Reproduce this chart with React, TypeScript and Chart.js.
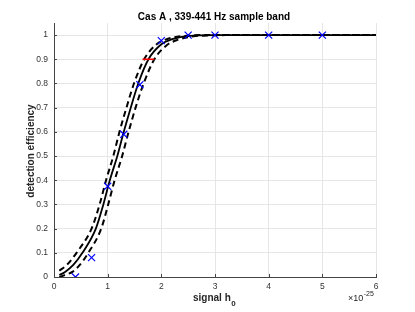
import React, { useEffect, useRef } from 'react';
import { Chart, registerables } from 'chart.js';

Chart.register(...registerables);

// ---- data ----
const titleText = 'Cas A , 339-441 Hz sample band';
const yTitle = 'detection efficiency';
const xTitleMain = 'signal h';
const xTitleSub = '0';
const xExpBase = '\u00d710';
const xExpPow = '-25';

const xTicks = [0, 1, 2, 3, 4, 5, 6];
const xTickLabels = ['0', '1', '2', '3', '4', '5', '6'];
const yTicks = [0, 0.1, 0.2, 0.3, 0.4, 0.5, 0.6, 0.7, 0.8, 0.9, 1];
const yTickLabels = ['0', '0.1', '0.2', '0.3', '0.4', '0.5', '0.6', '0.7', '0.8', '0.9', '1'];

// injected signal amplitudes (units of 1e-25) and measured efficiencies
const injH0 = [0.4, 0.7, 1.0, 1.3, 1.6, 2.0, 2.5, 3, 4, 5];
const injEff = [0.0, 0.08, 0.375, 0.59, 0.795, 0.977, 1.0, 1.0, 1.0, 1.0];

// fitted curve (solid)
const fitX = [0.1, 0.2, 0.36, 0.53, 0.78, 0.92, 1.04, 1.18, 1.30, 1.43, 1.57, 1.76, 2.0, 2.2, 2.5, 3.0, 6];
const fitY = [0.008, 0.02, 0.05, 0.1, 0.2, 0.3, 0.4, 0.5, 0.6, 0.7, 0.8, 0.9, 0.962, 0.983, 0.996, 1.0, 1.0];
// upper confidence curve (dashed, left)
const upperX = [0.1, 0.24, 0.42, 0.70, 0.85, 0.97, 1.105, 1.22, 1.35, 1.49, 1.68, 1.9, 2.1, 2.4, 2.8, 6];
const upperY = [0.026, 0.05, 0.1, 0.2, 0.3, 0.4, 0.5, 0.6, 0.7, 0.8, 0.9, 0.96, 0.983, 0.996, 1.0, 1.0];
// lower confidence curve (dashed, right)
const lowerX = [0.1, 0.2, 0.35, 0.48, 0.64, 0.88, 1.01, 1.13, 1.27, 1.39, 1.52, 1.67, 1.87, 2.1, 2.3, 2.6, 3.0, 3.2, 6];
const lowerY = [0.0, 0.008, 0.022, 0.05, 0.1, 0.2, 0.3, 0.4, 0.5, 0.6, 0.7, 0.8, 0.9, 0.958, 0.98, 0.995, 0.999, 1.0, 1.0];

// 90% efficiency h0 interval
const h90Range = [1.65, 1.87];
const h90Level = 0.9;

const FONT = '"Liberation Sans", Arial, sans-serif';

const textPlugin = {
  id: 'textPlugin',
  afterDraw(chart: any) {
    const ctx = chart.ctx as CanvasRenderingContext2D;
    const { left, bottom } = chart.chartArea;
    const xs = chart.scales.x;
    const ys = chart.scales.y;
    ctx.save();
    // inward tick marks
    ctx.strokeStyle = '#444';
    ctx.lineWidth = 1;
    ctx.beginPath();
    xTicks.forEach((v) => {
      const px = Math.round(xs.getPixelForValue(v)) + 0.5;
      ctx.moveTo(px, bottom);
      ctx.lineTo(px, bottom - 3);
    });
    yTicks.forEach((v) => {
      const py = Math.round(ys.getPixelForValue(v)) + 0.5;
      ctx.moveTo(left, py);
      ctx.lineTo(left + 3, py);
    });
    ctx.stroke();

    // title
    ctx.fillStyle = '#000';
    ctx.font = 'bold 10px ' + FONT;
    ctx.textAlign = 'center';
    ctx.textBaseline = 'alphabetic';
    ctx.fillText(titleText, 214, 20);

    // y title
    ctx.fillStyle = '#262626';
    ctx.save();
    ctx.translate(33.5, 151);
    ctx.rotate(-Math.PI / 2);
    ctx.fillText(yTitle, 0, 0);
    ctx.restore();

    // x title with subscript
    ctx.textAlign = 'left';
    ctx.font = 'bold 10px ' + FONT;
    ctx.fillText(xTitleMain, 193, 301);
    const w = ctx.measureText(xTitleMain).width;
    ctx.font = 'bold 8px ' + FONT;
    ctx.fillText(xTitleSub, 193 + w + 0.5, 306);

    // exponent label
    ctx.font = '9px ' + FONT;
    ctx.fillText(xExpBase, 348, 301);
    const w2 = ctx.measureText(xExpBase).width;
    ctx.font = '7px ' + FONT;
    ctx.fillText(xExpPow, 348 + w2 + 0.5, 296);
    ctx.restore();
  },
};

export default function App() {
  const ref = useRef<HTMLCanvasElement>(null);
  useEffect(() => {
    const canvas = ref.current!;
    const chart = new Chart(canvas, {
      type: 'scatter',
      data: {
        datasets: [
          {
            label: 'injections',
            data: injH0.map((x, i) => ({ x, y: injEff[i] })),
            pointStyle: 'crossRot',
            pointRadius: 5,
            pointBorderWidth: 1.2,
            borderColor: '#0000ff',
            backgroundColor: '#0000ff',
            showLine: false,
            order: 0,
          },
          {
            label: 'h90',
            data: h90Range.map((x) => ({ x, y: h90Level })),
            showLine: true,
            borderColor: '#ff0000',
            borderWidth: 1.6,
            pointRadius: 0,
            order: 1,
          },
          {
            label: 'fit',
            data: fitX.map((x, i) => ({ x, y: fitY[i] })),
            showLine: true,
            borderColor: '#000',
            borderWidth: 1.8,
            pointRadius: 0,
            cubicInterpolationMode: 'monotone',
            order: 2,
          },
          {
            label: 'upper',
            data: upperX.map((x, i) => ({ x, y: upperY[i] })),
            showLine: true,
            borderColor: '#000',
            borderWidth: 2,
            borderDash: [6, 4],
            pointRadius: 0,
            cubicInterpolationMode: 'monotone',
            order: 3,
          },
          {
            label: 'lower',
            data: lowerX.map((x, i) => ({ x, y: lowerY[i] })),
            showLine: true,
            borderColor: '#000',
            borderWidth: 2,
            borderDash: [6, 4],
            pointRadius: 0,
            cubicInterpolationMode: 'monotone',
            order: 3,
          },
        ],
      } as any,
      options: {
        responsive: false,
        animation: false,
        devicePixelRatio: 1,
        layout: { padding: { top: 23, right: 39, left: 0, bottom: 0 } },
        plugins: { legend: { display: false }, tooltip: { enabled: false }, title: { display: false } },
        scales: {
          x: {
            type: 'linear',
            min: 0,
            max: 6,
            afterBuildTicks: (s: any) => {
              s.ticks = xTicks.map((v) => ({ value: v }));
            },
            afterFit: (s: any) => {
              s.height = 35;
            },
            grid: { color: '#e6e6e6', lineWidth: 1, drawTicks: false },
            border: { display: true, color: '#444', width: 1 },
            ticks: {
              padding: 5,
              color: '#333',
              font: { family: FONT, size: 8.5 },
              maxRotation: 0,
              autoSkip: false,
              callback: (_v: any, i: number) => xTickLabels[i],
            },
          },
          y: {
            type: 'linear',
            min: 0,
            max: 1.05,
            afterBuildTicks: (s: any) => {
              s.ticks = yTicks.map((v) => ({ value: v }));
            },
            afterFit: (s: any) => {
              s.width = 54;
            },
            grid: { color: '#e6e6e6', lineWidth: 1, drawTicks: false },
            border: { display: true, color: '#444', width: 1 },
            ticks: {
              padding: 6,
              color: '#333',
              font: { family: FONT, size: 8.5 },
              autoSkip: false,
              callback: (_v: any, i: number) => yTickLabels[i],
            },
          },
        },
      } as any,
      plugins: [textPlugin],
    });
    return () => chart.destroy();
  }, []);
  return (
    <div style={{ position: 'fixed', left: 0, top: 0, width: 415, height: 312, background: '#fff' }}>
      <canvas ref={ref} width={415} height={312} style={{ display: 'block' }} />
    </div>
  );
}
